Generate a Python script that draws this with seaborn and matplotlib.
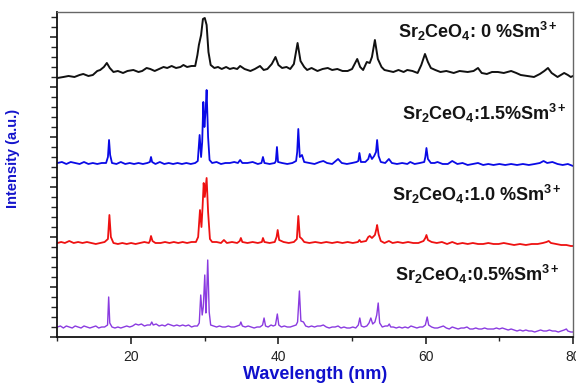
import matplotlib
matplotlib.use('Agg')
import matplotlib.pyplot as plt
import seaborn as sns
import pandas as pd
from matplotlib.ticker import MultipleLocator

# Traces: (2-theta, stacked intensity in a.u.)
black_pts = [(10.0, 259), (10.8, 260), (11.5, 261), (12.3, 260), (13.0, 262), (13.5, 263), (14.2, 261), (14.8, 262),
             (15.4, 266), (15.8, 267), (16.3, 270), (16.7, 274), (17.1, 269), (17.6, 265), (18.2, 266), (18.9, 264),
             (19.5, 266), (20.3, 267), (21.0, 265), (21.5, 266), (22.1, 269), (22.6, 268), (23.2, 266), (23.8, 268),
             (24.4, 270), (24.9, 269), (25.5, 271), (26.1, 269), (26.7, 270), (27.1, 272), (27.6, 270), (28.2, 271),
             (28.7, 271), (29.0, 282), (29.2, 292), (29.5, 302), (29.75, 318), (30.0, 319), (30.25, 312), (30.5, 285),
             (30.8, 272), (31.3, 269), (31.8, 270), (32.3, 268), (32.9, 270), (33.4, 268), (33.9, 269), (34.4, 268),
             (34.8, 271), (35.4, 268), (36.2, 266), (36.8, 268), (37.5, 271), (38.0, 267), (38.5, 268), (39.1, 273),
             (39.6, 280), (40.0, 272), (40.5, 269), (41.1, 270), (41.6, 268), (42.1, 273), (42.6, 294), (43.0, 276),
             (43.5, 270), (43.9, 267), (44.5, 269), (45.3, 266), (46.0, 268), (46.7, 269), (47.3, 267), (48.0, 268),
             (48.7, 266), (49.4, 266), (50.0, 268), (50.7, 278), (51.1, 270), (51.5, 267), (52.0, 275), (52.4, 274),
             (52.7, 280), (53.1, 297), (53.5, 278), (54.0, 270), (54.4, 267), (55.0, 266), (55.6, 265), (56.3, 267),
             (57.0, 265), (57.5, 267), (58.2, 266), (58.9, 264), (59.4, 272), (59.9, 283), (60.3, 275), (60.7, 269),
             (61.3, 267), (62.0, 265), (62.8, 266), (63.8, 264), (64.6, 266), (65.7, 265), (66.5, 266), (67.1, 269),
             (67.6, 264), (68.3, 263), (69.0, 265), (69.8, 265), (70.6, 264), (71.6, 266), (72.3, 264), (72.9, 262),
             (73.8, 261), (74.7, 260), (75.5, 263), (76.1, 266), (76.6, 269), (77.1, 264), (77.9, 260), (78.8, 264),
             (79.3, 262), (79.7, 260), (80.0, 261)]

blue_pts = [(10.0, 174), (10.6, 175), (11.2, 173), (11.8, 175), (12.4, 174), (13.0, 173), (13.6, 175), (14.2, 173),
            (14.8, 174), (15.4, 173), (16.0, 174), (16.6, 174), (16.85, 180), (17.0, 197), (17.15, 182), (17.4, 174),
            (18.0, 173), (18.6, 175), (19.2, 173), (19.8, 174), (20.4, 173), (21.0, 174), (21.6, 173), (22.2, 174),
            (22.55, 175), (22.7, 180), (22.85, 175), (23.3, 173), (23.9, 175), (24.5, 173), (25.1, 174), (25.7, 173),
            (26.3, 174), (26.9, 173), (27.5, 174), (28.1, 173), (28.7, 174), (29.05, 176), (29.3, 202), (29.5, 180),
            (29.65, 195), (29.8, 235), (29.95, 210), (30.1, 225), (30.25, 247), (30.45, 200), (30.65, 177), (31.0, 174),
            (31.6, 175), (32.2, 173), (32.8, 174), (33.4, 174), (34.0, 175), (34.5, 174), (34.8, 177), (35.1, 174),
            (35.8, 174), (36.5, 175), (37.2, 173), (37.7, 174), (37.9, 180), (38.1, 174), (38.8, 173), (39.5, 174),
            (39.65, 176), (39.8, 190), (39.95, 175), (40.5, 174), (41.2, 173), (41.9, 174), (42.4, 176), (42.55, 185),
            (42.7, 208), (42.9, 180), (43.2, 182), (43.5, 175), (44.2, 174), (44.9, 173), (45.6, 175), (46.1, 176),
            (46.6, 174), (47.3, 173), (48.1, 178), (48.6, 174), (49.3, 173), (50.0, 174), (50.6, 175), (50.85, 176),
            (51.0, 184), (51.2, 175), (51.8, 175), (52.2, 178), (52.4, 183), (52.7, 178), (53.0, 181), (53.25, 185),
            (53.4, 197), (53.6, 181), (53.9, 175), (54.5, 174), (55.0, 178), (55.4, 174), (56.1, 173), (56.8, 174),
            (57.5, 173), (57.9, 175), (58.5, 173), (59.2, 174), (59.8, 175), (59.95, 180), (60.1, 189), (60.3, 178),
            (60.7, 174), (61.2, 174), (61.6, 175), (62.3, 173), (63.0, 173), (63.6, 176), (64.3, 173), (65.0, 174),
            (65.7, 172), (66.4, 173), (67.1, 174), (67.8, 172), (68.5, 173), (69.2, 172), (70.0, 173), (70.8, 172),
            (71.6, 173), (72.4, 172), (73.2, 173), (74.0, 172), (74.8, 173), (75.5, 174), (76.0, 176), (76.5, 174),
            (77.2, 175), (77.9, 173), (78.6, 172), (79.3, 173), (80.0, 171)]

red_pts = [(10.0, 94), (10.5, 95), (11.0, 94), (11.6, 96), (12.2, 94), (12.8, 95), (13.4, 94), (14.0, 95), (14.6, 94),
           (15.2, 93), (15.8, 94), (16.4, 95), (16.85, 98), (17.05, 122), (17.25, 100), (17.6, 94), (18.2, 93),
           (18.8, 94), (19.4, 93), (20.0, 94), (20.6, 93), (21.2, 94), (21.8, 95), (22.4, 94), (22.55, 96),
           (22.7, 101), (22.9, 96), (23.3, 94), (24.0, 94), (24.6, 95), (25.2, 94), (25.8, 95), (26.4, 94), (27.0, 95),
           (27.6, 94), (28.2, 95), (28.8, 95), (29.1, 100), (29.35, 127), (29.55, 110), (29.7, 130), (29.85, 154),
           (30.0, 140), (30.1, 148), (30.25, 159), (30.45, 125), (30.7, 98), (31.0, 95), (31.6, 95), (32.2, 94),
           (32.6, 97), (33.0, 94), (33.7, 95), (34.4, 94), (34.75, 96), (34.9, 99), (35.1, 95), (35.8, 94), (36.5, 95),
           (37.2, 94), (37.75, 95), (37.9, 99), (38.1, 95), (38.8, 94), (39.5, 95), (39.75, 100), (39.9, 107),
           (40.1, 97), (40.7, 95), (41.4, 94), (42.1, 95), (42.5, 98), (42.7, 121), (42.9, 100), (43.2, 98),
           (43.5, 95), (44.2, 94), (45.0, 95), (45.8, 94), (46.5, 95), (47.3, 94), (48.0, 95), (48.7, 94), (49.4, 95),
           (50.1, 94), (50.8, 95), (51.0, 97), (51.2, 95), (51.9, 96), (52.2, 100), (52.4, 101), (52.7, 99),
           (53.1, 102), (53.3, 108), (53.4, 112), (53.6, 103), (53.9, 96), (54.4, 94), (55.0, 96), (55.5, 94),
           (56.2, 95), (56.9, 94), (57.6, 95), (58.3, 94), (59.0, 94), (59.7, 96), (59.95, 99), (60.1, 102),
           (60.3, 97), (60.8, 95), (61.5, 94), (62.2, 95), (62.9, 93), (63.6, 95), (64.3, 93), (65.0, 94), (65.7, 93),
           (66.4, 94), (67.1, 93), (67.8, 93), (68.5, 94), (69.2, 93), (69.9, 93), (70.6, 94), (71.3, 93), (72.0, 92),
           (72.8, 93), (73.6, 92), (74.4, 93), (75.2, 93), (75.9, 94), (76.4, 95), (76.7, 96), (77.0, 94), (77.7, 93),
           (78.4, 92), (79.1, 92), (79.7, 91), (80.0, 91)]

purple_pts = [(10.0, 10), (10.4, 11), (10.8, 9), (11.2, 11), (11.6, 10), (12.0, 9), (12.4, 11), (12.8, 10), (13.2, 9),
              (13.6, 11), (14.0, 10), (14.4, 9), (14.8, 10), (15.2, 11), (15.6, 9), (16.0, 10), (16.4, 10), (16.8, 12),
              (16.95, 40), (17.1, 14), (17.4, 10), (17.8, 9), (18.2, 10), (18.6, 9), (19.0, 10), (19.4, 11), (19.8, 10),
              (20.2, 11), (20.6, 13), (21.0, 12), (21.4, 13), (21.8, 11), (22.2, 12), (22.6, 12), (22.8, 15),
              (23.0, 12), (23.4, 13), (23.8, 11), (24.2, 12), (24.6, 11), (25.0, 13), (25.4, 12), (25.8, 11),
              (26.2, 12), (26.6, 11), (27.0, 12), (27.4, 11), (27.8, 12), (28.2, 10), (28.6, 11), (29.0, 11),
              (29.25, 14), (29.45, 42), (29.65, 22), (29.8, 30), (30.0, 62), (30.15, 24), (30.25, 40), (30.4, 77),
              (30.6, 25), (30.8, 12), (31.2, 11), (31.6, 10), (32.0, 11), (32.4, 10), (32.8, 10), (33.2, 11),
              (33.6, 10), (34.0, 10), (34.4, 11), (34.75, 12), (34.9, 15), (35.1, 11), (35.5, 10), (35.9, 11),
              (36.3, 10), (36.7, 9), (37.1, 10), (37.5, 10), (37.85, 12), (38.05, 19), (38.25, 11), (38.6, 10),
              (39.0, 12), (39.3, 11), (39.6, 12), (39.85, 23), (40.05, 12), (40.4, 10), (40.8, 11), (41.2, 10),
              (41.6, 10), (42.0, 11), (42.4, 12), (42.6, 15), (42.85, 46), (43.05, 16), (43.4, 15), (43.7, 11),
              (44.1, 10), (44.5, 11), (44.9, 10), (45.3, 11), (45.7, 11), (46.1, 12), (46.5, 10), (46.9, 9),
              (47.3, 10), (47.7, 10), (48.1, 11), (48.5, 9), (48.9, 10), (49.3, 9), (49.7, 9), (50.1, 10), (50.5, 9),
              (50.85, 12), (51.05, 19), (51.25, 11), (51.6, 10), (52.0, 11), (52.3, 14), (52.55, 19), (52.8, 13),
              (53.1, 15), (53.35, 22), (53.55, 34), (53.75, 14), (54.1, 10), (54.5, 11), (54.85, 11), (55.05, 13),
              (55.25, 10), (55.6, 10), (56.0, 9), (56.4, 10), (56.8, 9), (57.2, 10), (57.6, 9), (58.0, 11), (58.4, 10),
              (58.8, 9), (59.2, 10), (59.6, 10), (59.95, 12), (60.2, 20), (60.4, 12), (60.8, 10), (61.2, 9), (61.6, 9),
              (62.0, 10), (62.4, 11), (62.8, 9), (63.2, 8), (63.6, 10), (64.0, 9), (64.4, 8), (64.8, 9), (65.2, 9),
              (65.6, 10), (66.0, 8), (66.4, 8), (66.8, 9), (67.2, 8), (67.6, 8), (68.0, 9), (68.4, 8), (68.8, 8),
              (69.2, 8), (69.6, 9), (70.0, 8), (70.4, 9), (70.8, 8), (71.2, 7), (71.6, 8), (72.0, 7), (72.4, 6),
              (72.8, 7), (73.2, 6), (73.6, 7), (74.0, 6), (74.4, 6), (74.8, 5), (75.2, 6), (75.6, 7), (76.0, 6),
              (76.4, 6), (76.8, 7), (77.2, 6), (77.6, 6), (78.0, 5), (78.4, 6), (78.8, 7), (79.1, 8), (79.3, 6),
              (79.7, 5), (80.0, 5)]

sample_labels = [r'Sr$_2$CeO$_4$: 0 %Sm$^{3+}$', r'Sr$_2$CeO$_4$:1.5%Sm$^{3+}$',
                 r'Sr$_2$CeO$_4$:1.0 %Sm$^{3+}$', r'Sr$_2$CeO$_4$:0.5%Sm$^{3+}$']
label_x = [77.9, 79.2, 78.5, 78.2]
label_y = [299, 217, 136, 56]
line_colors = ['#111111', '#0a0ae6', '#ee1111', '#8a3be0']
line_widths = [1.4, 1.3, 1.3, 1.0]
x_ticks = [20, 40, 60, 80]


def main():
    sns.set_theme(style='ticks')
    plt.rcParams['font.family'] = ['Liberation Sans', 'DejaVu Sans']
    plt.rcParams['mathtext.fontset'] = 'custom'
    plt.rcParams['mathtext.rm'] = 'Liberation Sans:bold'
    plt.rcParams['mathtext.it'] = 'Liberation Sans:bold:italic'
    plt.rcParams['mathtext.bf'] = 'Liberation Sans:bold'

    fig = plt.figure(figsize=(5.76, 3.83), dpi=100)
    ax = fig.add_axes([0.0998, 0.1201, 0.8950, 0.8486])

    traces = [black_pts, blue_pts, red_pts, purple_pts]
    for pts, color, lw in zip(traces, line_colors, line_widths):
        df = pd.DataFrame(pts, columns=['theta', 'intensity'])
        sns.lineplot(data=df, x='theta', y='intensity', color=color, linewidth=lw,
                     estimator=None, sort=False, ax=ax)

    for text, tx, ty in zip(sample_labels, label_x, label_y):
        ax.text(tx, ty, text, ha='right', va='baseline', fontsize=13,
                fontweight='bold', color='#141414')

    ax.set_xlim(10, 80)
    ax.set_ylim(0, 325)
    ax.set_xticks(x_ticks)
    ax.xaxis.set_minor_locator(MultipleLocator(10))
    ax.yaxis.set_major_locator(MultipleLocator(50))
    ax.yaxis.set_minor_locator(MultipleLocator(10))
    ax.set_yticklabels([])
    ax.tick_params(axis='x', which='major', length=5, width=1.2, labelsize=10,
                   labelcolor='#222222', pad=4)
    ax.tick_params(axis='x', which='minor', length=3, width=1.0)
    ax.tick_params(axis='y', which='major', length=5, width=1.2)
    ax.tick_params(axis='y', which='minor', length=4, width=1.0)

    for side in ['left', 'bottom']:
        ax.spines[side].set_color('#111111')
        ax.spines[side].set_linewidth(1.3)
    for side in ['top', 'right']:
        ax.spines[side].set_visible(True)
        ax.spines[side].set_color('#666666')
        ax.spines[side].set_linewidth(1.0)

    ax.set_xlabel('Wavelength (nm)', fontsize=13, fontweight='bold', color='#1010cc', labelpad=2)
    ax.set_ylabel('Intensity (a.u.)', fontsize=10.5, fontweight='bold', color='#1515cc')
    ax.yaxis.set_label_coords(-0.072, 0.55)

    fig.savefig('out.png', dpi=100)


if __name__ == '__main__':
    main()
